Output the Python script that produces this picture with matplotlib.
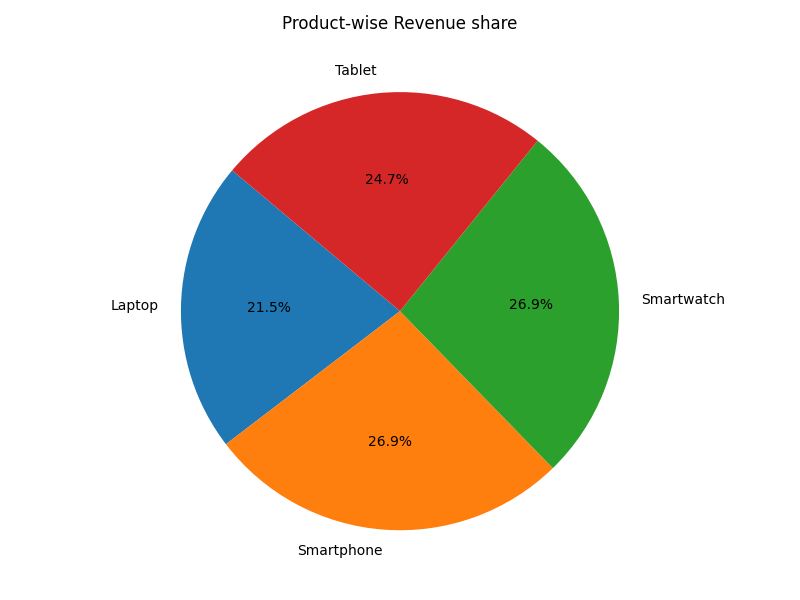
import matplotlib.pyplot as plt

products = ['Laptop', 'Smartphone', 'Smartwatch', 'Tablet']
revenue = [21.5, 26.9, 26.9, 24.7]

fig = plt.figure(figsize=(8, 6), dpi=100)
plt.pie(revenue, labels=products, autopct='%1.1f%%', startangle=140)
plt.title('Product-wise Revenue share')
plt.tight_layout()
plt.savefig('out.png')
